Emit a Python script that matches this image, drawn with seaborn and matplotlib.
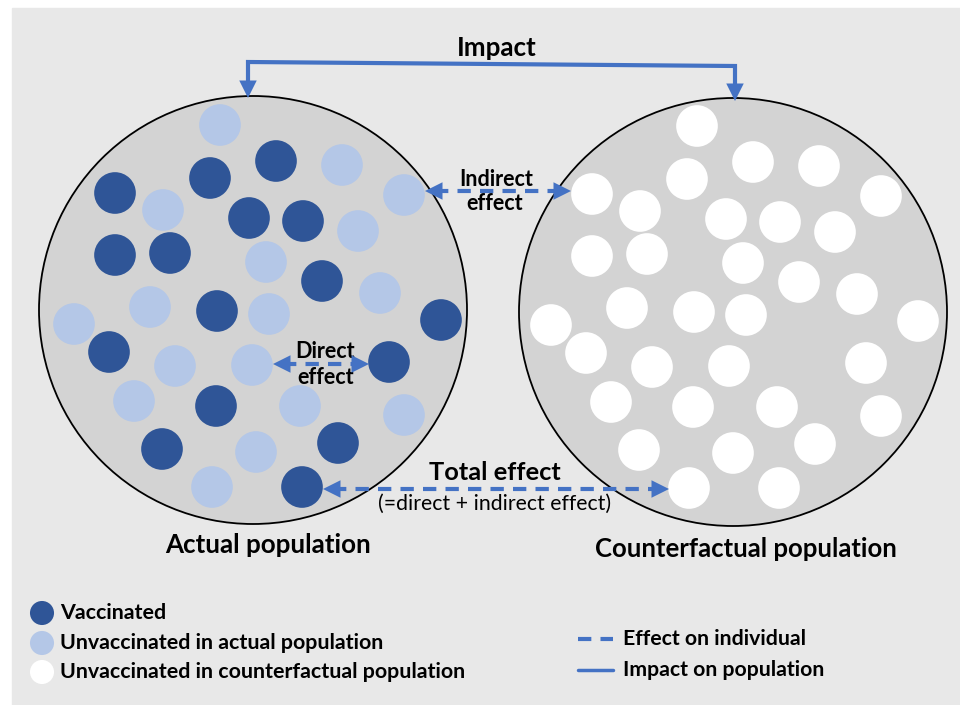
import numpy as np
import pandas as pd
import matplotlib
matplotlib.use("Agg")
import matplotlib.pyplot as plt
from matplotlib.patches import Circle, Rectangle
import seaborn as sns

# dots in the actual population (pixel positions)
dot_x = [220, 276, 342, 210, 115, 163, 404, 249, 303, 358, 115, 170, 266, 322,
         380, 150, 217, 269, 74, 441, 109, 175, 252, 389, 134, 216, 300, 404,
         162, 256, 338, 212, 302]
dot_y = [125, 161, 165, 178, 193, 210, 195, 218, 221, 231, 255, 253, 262, 281,
         293, 307, 311, 314, 324, 320, 352, 366, 365, 362, 401, 406, 406, 415,
         449, 452, 443, 487, 487]
dot_status = ["U", "V", "U", "V", "V", "U", "U", "V", "V", "U", "V", "V", "U", "V",
              "U", "U", "V", "U", "U", "V", "V", "U", "U", "V", "U", "V", "U", "U",
              "V", "U", "V", "U", "V"]
# the counterfactual population has the same layout, shifted to the right circle
cf_shift_x = 477
cf_shift_y = 1

legend_labels = ["Vaccinated", "Unvaccinated in actual population",
                 "Unvaccinated in counterfactual population"]
line_labels = ["Effect on individual", "Impact on population"]

dark = "#2f5597"
light = "#b4c7e7"
blue = "#4472c4"
palette = {"V": dark, "U": light, "C": "#ffffff"}

sns.set_theme(style="white")
plt.rcParams["font.family"] = ["Lato", "DejaVu Sans"]
plt.rcParams["text.color"] = "black"

fig = plt.figure(figsize=(9.6, 7.05), dpi=100)
ax = fig.add_axes([0, 0, 1, 1])

ax.add_patch(Rectangle((12, 8), 960, 705, color="#e8e8e8", zorder=0))
ax.add_patch(Circle((253, 310), 214, facecolor="#d3d3d3", edgecolor="black", lw=1.3, zorder=1))
ax.add_patch(Circle((733, 312), 214, facecolor="#d3d3d3", edgecolor="black", lw=1.3, zorder=1))

actual = pd.DataFrame({"x": dot_x, "y": dot_y, "status": dot_status})
counter = pd.DataFrame({"x": np.array(dot_x) + cf_shift_x,
                        "y": np.array(dot_y) + cf_shift_y,
                        "status": "C"})
dots = pd.concat([actual, counter], ignore_index=True)
sns.scatterplot(data=dots, x="x", y="y", hue="status", palette=palette,
                s=900, linewidth=0, legend=False, ax=ax, zorder=3)


def head(tip, frm):
    ax.annotate("", xy=tip, xytext=frm, zorder=5,
                arrowprops=dict(arrowstyle="-|>,head_length=0.9,head_width=0.45",
                                color=blue, lw=0, mutation_scale=14,
                                shrinkA=0, shrinkB=0))


def dashed_double(x0, x1, y):
    ax.plot([x0 + 10, x1 - 10], [y, y], color=blue, lw=3, ls=(0, (3.2, 2.2)), zorder=4)
    head((x0, y), (x0 + 14, y))
    head((x1, y), (x1 - 14, y))


# impact bracket
ax.plot([248, 248, 735, 735], [88, 62, 66, 90], color=blue, lw=3, zorder=4,
        solid_joinstyle="miter")
head((248, 98), (248, 84))
head((735, 101), (735, 87))
ax.text(497, 48, "Impact", ha="center", va="center", fontsize=18.7, fontweight="bold")

dashed_double(425, 571, 191)
ax.text(496, 179, "Indirect", ha="center", va="center", fontsize=15.5, fontweight="bold")
ax.text(495, 204, "effect", ha="center", va="center", fontsize=15.5, fontweight="bold")

dashed_double(273, 369, 364)
ax.text(325, 351, "Direct", ha="center", va="center", fontsize=15.5, fontweight="bold")
ax.text(326, 378, "effect", ha="center", va="center", fontsize=15.5, fontweight="bold")

dashed_double(323, 669, 489)
ax.text(495, 473, "Total effect", ha="center", va="center", fontsize=18.3, fontweight="bold")
ax.text(495, 504, "(=direct + indirect effect)", ha="center", va="center", fontsize=15.3)

ax.text(268, 545, "Actual population", ha="center", va="center", fontsize=18.7, fontweight="bold")
ax.text(746, 549, "Counterfactual population", ha="center", va="center", fontsize=18.5, fontweight="bold")

# dot legend
leg = pd.DataFrame({"x": [42, 42, 42], "y": [613, 643, 672], "status": ["V", "U", "C"]})
sns.scatterplot(data=leg, x="x", y="y", hue="status", palette=palette,
                s=300, linewidth=0, legend=False, ax=ax, zorder=3)
for yy, lab in zip(leg["y"], legend_labels):
    ax.text(60, yy, lab, ha="left", va="center", fontsize=15.4, fontweight="bold")

# line legend
ax.plot([578, 613], [639, 639], color=blue, lw=3, ls=(0, (3.2, 2.2)))
ax.plot([578, 613], [670, 670], color=blue, lw=2.5)
ax.text(623, 639, line_labels[0], ha="left", va="center", fontsize=15.3, fontweight="bold")
ax.text(623, 670, line_labels[1], ha="left", va="center", fontsize=15.3, fontweight="bold")

ax.set_xlim(0, 960)
ax.set_ylim(705, 0)
ax.axis("off")
fig.savefig("out.png", dpi=100, facecolor="white")
